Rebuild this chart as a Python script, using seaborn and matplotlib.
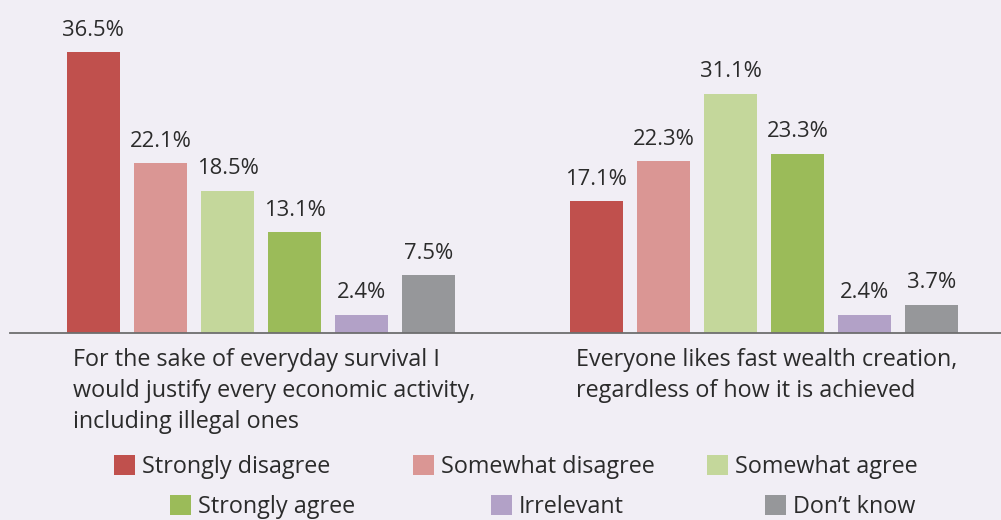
import pandas as pd
import numpy as np
import matplotlib
matplotlib.use("Agg")
import matplotlib.pyplot as plt
import matplotlib.patches as mpatches
import matplotlib.transforms as mtransforms
import seaborn as sns

# ---------------- data ----------------
statements = [
    "For the sake of everyday survival I\nwould justify every economic activity,\nincluding illegal ones",
    "Everyone likes fast wealth creation,\nregardless of how it is achieved",
]
responses = ["Strongly disagree", "Somewhat disagree", "Somewhat agree",
             "Strongly agree", "Irrelevant", "Don\u2019t know"]
survival_vals = [36.5, 22.1, 18.5, 13.1, 2.4, 7.5]
wealth_vals = [17.1, 22.3, 31.1, 23.3, 2.4, 3.7]

colors = ["#C0504D", "#DA9694", "#C4D79B", "#9BBB59", "#B2A1C7", "#96979A"]
BG = "#F1EEF5"
TXT = "#2B2B2B"

df = pd.DataFrame({
    "statement": [statements[0]] * 6 + [statements[1]] * 6,
    "response": responses * 2,
    "value": survival_vals + wealth_vals,
})

# ---------------- plot ----------------
sns.set_theme(style="white")
plt.rcParams["font.family"] = ["Open Sans", "DejaVu Sans"]

fig = plt.figure(figsize=(10.01, 5.20), dpi=100, facecolor=BG)
ax = fig.add_axes([10 / 1001, 1 - 333 / 520, 991 / 1001, 308 / 520])
ax.set_facecolor(BG)

sns.barplot(data=df, x="statement", y="value", hue="response",
            order=statements, hue_order=responses, palette=colors,
            width=0.8, gap=0.21, saturation=1, legend=False,
            linewidth=0, ax=ax)

for cont in ax.containers:
    ax.bar_label(cont, fmt="%.1f%%", padding=8, fontsize=15.8, color=TXT)

ax.set_xlim(-0.499, 1.471)
ax.set_ylim(0, 40)
ax.set_xticks([])
ax.set_yticks([])
ax.set_xlabel("")
ax.set_ylabel("")
for s in ["top", "left", "right"]:
    ax.spines[s].set_visible(False)
ax.spines["bottom"].set_color("#6E6E6E")
ax.spines["bottom"].set_linewidth(1.3)

# statement labels under each group
trans = mtransforms.blended_transform_factory(ax.transData, fig.transFigure)
for i, stmt in enumerate(statements):
    ax.text(i - 0.374, 1 - 348 / 520, stmt, transform=trans,
            ha="left", va="top", fontsize=16.8, color=TXT, linespacing=1.4)

# legend, two staggered rows
leg_pos = [(114, 467), (413, 467), (707, 467),
           (170, 507), (491, 507), (765, 507)]
for (px, py), lab, col in zip(leg_pos, responses, colors):
    h = mpatches.Patch(facecolor=col, edgecolor="none")
    fig.legend(handles=[h], labels=[lab], loc="center left",
               bbox_to_anchor=(px / 1001, 1 - py / 520), frameon=False,
               fontsize=16.8, handlelength=0.9, handleheight=0.9,
               handletextpad=0.3, borderpad=0, borderaxespad=0,
               labelcolor=TXT)

plt.savefig("out.png", dpi=100, facecolor=BG)
